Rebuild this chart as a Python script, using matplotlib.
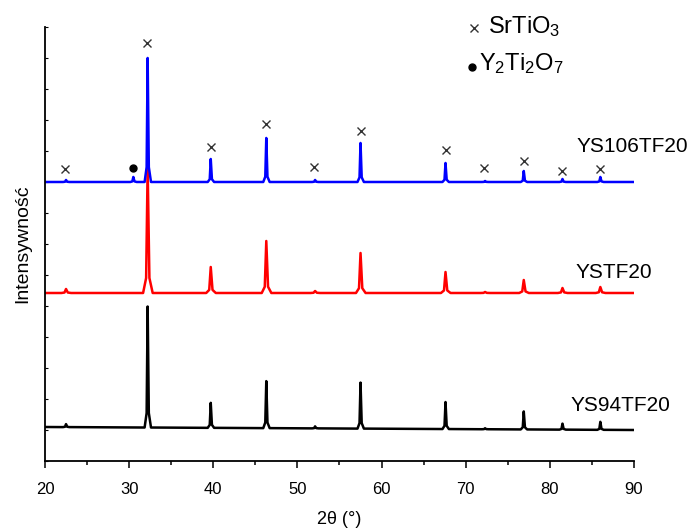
import matplotlib
matplotlib.use("Agg")
import matplotlib.pyplot as plt
from matplotlib.ticker import MultipleLocator
import numpy as np

plt.rcParams['font.family'] = ['Liberation Sans', 'DejaVu Sans']
plt.rcParams['mathtext.default'] = 'regular'

# peak positions (2theta) shared by the three patterns
peak_pos = [22.5, 32.2, 39.7, 46.3, 52.1, 57.5, 67.6, 72.3, 76.9, 81.5, 86.0]

# peak heights above baseline (arb. units)
ys106_heights = [2, 124, 23, 44, 2, 39, 19, 1, 11, 3, 5]
ys_heights = [4, 125, 26, 52, 2, 40, 21, 1, 13, 5, 6]
ys94_heights = [3, 121, 25, 47, 2, 46, 27, 1, 18, 6, 8]

# extra Y2Ti2O7 reflection seen only in YS106TF20
ys106_extra_pos = [30.5]
ys106_extra_heights = [5]

# baselines (offset) at 20 and 90 deg
ys106_base = [279, 279]
ys_base = [168, 168]
ys94_base = [34, 31]

# phase markers
srtio3_x = [22.4, 32.1, 39.7, 46.3, 52.0, 57.5, 67.6, 72.2, 76.9, 81.4, 86.0]
srtio3_y = [292, 418, 314, 337, 294, 330, 311, 293, 300, 290, 292]
y2ti2o7_x = [30.5]
y2ti2o7_y = [293]

sample_names = ['YS106TF20', 'YSTF20', 'YS94TF20']


def build_trace(positions, heights, base, halfw):
    # polyline through baseline, peak foot and peak top
    pairs = sorted(zip(positions, heights))
    xs = [20.0]
    ys = [base[0]]
    for p, h in pairs:
        b = np.interp(p, [20, 90], base)
        xs += [p - 1.8 * halfw, p - 0.6 * halfw, p, p + 0.7 * halfw, p + 2.0 * halfw]
        ys += [b, b + 0.12 * h, b + h, b + 0.12 * h, b]
    xs.append(90.0)
    ys.append(base[1])
    return xs, ys


def main():
    fig = plt.figure(figsize=(6.91, 5.28), dpi=100)
    ax = fig.add_axes([0.0651, 0.1269, 0.8524, 0.822])

    x94, y94 = build_trace(peak_pos, ys94_heights, ys94_base, 0.2)
    xys, yys = build_trace(peak_pos, ys_heights, ys_base, 0.3)
    x106, y106 = build_trace(peak_pos + ys106_extra_pos,
                             ys106_heights + ys106_extra_heights,
                             ys106_base, 0.2)

    ax.plot(x94, y94, color='black', lw=1.8)
    ax.plot(xys, yys, color='#ff0000', lw=1.8)
    ax.plot(x106, y106, color='#0000ff', lw=1.8)

    ax.plot(srtio3_x, srtio3_y, 'x', color='#333333', ms=6, mew=1.0)
    ax.plot(y2ti2o7_x, y2ti2o7_y, 'o', color='black', ms=5)

    # legend drawn by hand
    ax.plot([71.0], [433], 'x', color='#333333', ms=6, mew=1.0, clip_on=False)
    ax.text(72.65, 434, 'SrTiO$_3$', fontsize=17, va='center', ha='left')
    ax.plot([70.75], [394], 'o', color='black', ms=5, clip_on=False)
    ax.text(71.6, 397, 'Y$_2$Ti$_2$O$_7$', fontsize=17, va='center', ha='left')

    # sample labels
    ax.text(83.2, 314, sample_names[0], fontsize=15, va='center', ha='left')
    ax.text(83.0, 188, sample_names[1], fontsize=15, va='center', ha='left')
    ax.text(82.5, 55, sample_names[2], fontsize=15, va='center', ha='left')

    ax.set_xlim(20, 90)
    ax.set_ylim(0, 434)
    ax.spines['top'].set_visible(False)
    ax.spines['right'].set_visible(False)
    ax.spines['left'].set_linewidth(1.3)
    ax.spines['bottom'].set_linewidth(1.3)

    ax.xaxis.set_major_locator(MultipleLocator(10))
    ax.xaxis.set_minor_locator(MultipleLocator(5))
    ax.tick_params(axis='x', which='major', length=5, width=1.1, labelsize=12, pad=10)
    ax.tick_params(axis='x', which='minor', length=3, width=1.1)
    ax.yaxis.set_major_locator(MultipleLocator(31))
    ax.tick_params(axis='y', which='major', direction='in', length=2, width=0.8,
                   labelleft=False)

    ax.set_xlabel('2θ (°)', fontsize=13, labelpad=10)
    ax.set_ylabel('Intensywność', fontsize=14, labelpad=10)

    fig.savefig('out.png', dpi=100)


if __name__ == '__main__':
    main()
